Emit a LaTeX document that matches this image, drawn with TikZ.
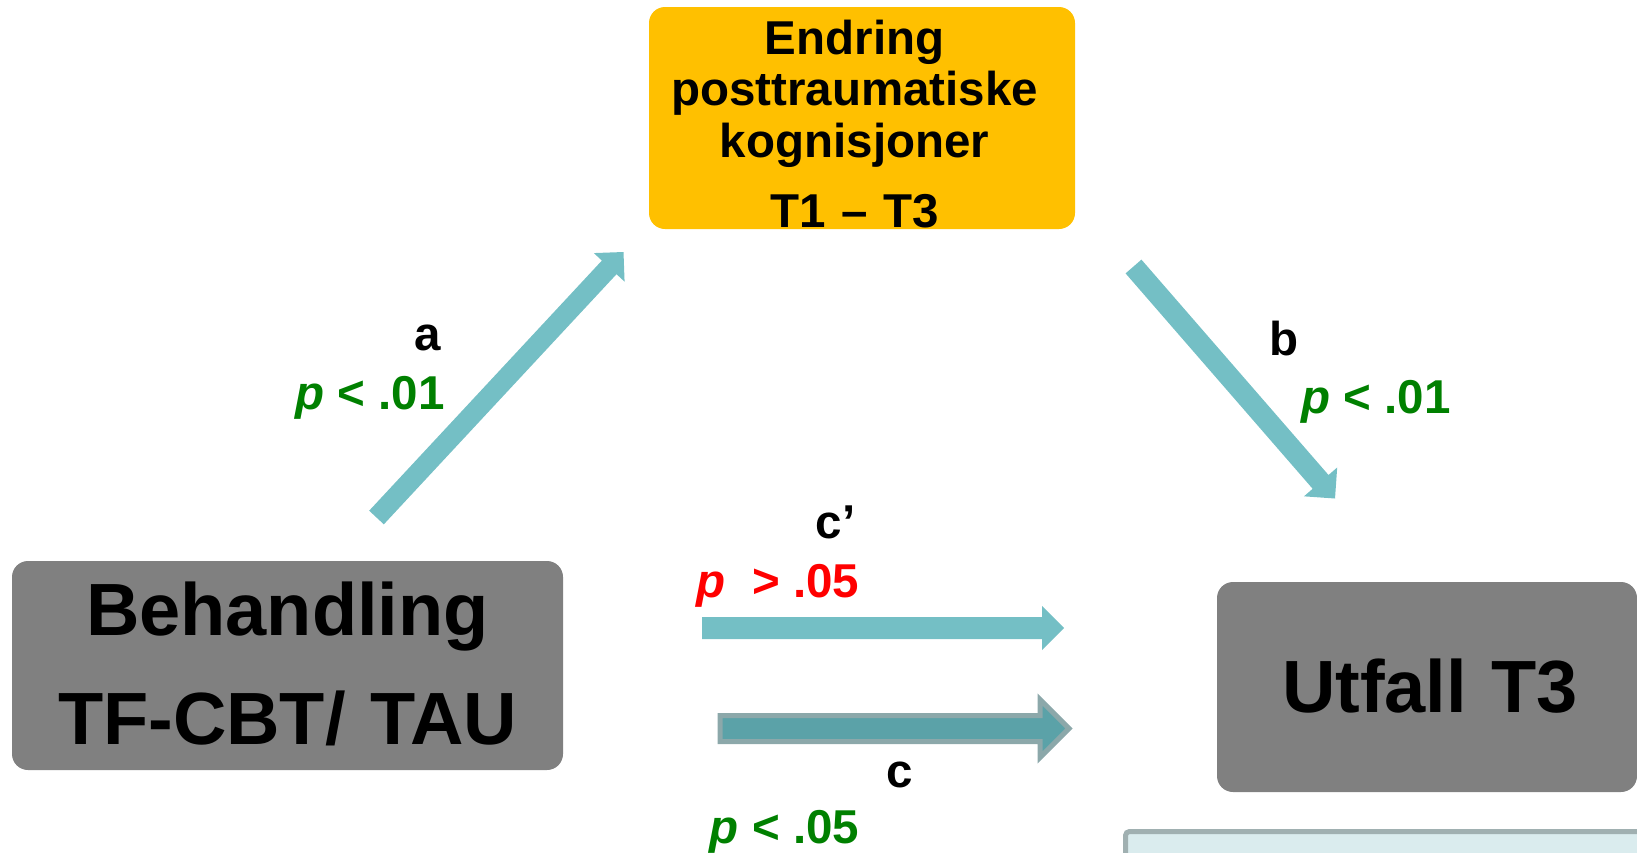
\documentclass[tikz,border=0pt]{standalone}
\usepackage{fontspec}
\setmainfont{Liberation Sans}
\usetikzlibrary{calc}

\definecolor{boxgray}{RGB}{128,128,128}
\definecolor{mediatorfill}{RGB}{255,192,0}
\definecolor{pathteal}{RGB}{116,191,197}
\definecolor{totalteal}{RGB}{91,162,168}
\definecolor{totaledge}{RGB}{140,168,170}
\definecolor{sigcol}{RGB}{0,128,0}
\definecolor{nscol}{RGB}{255,0,0}
\definecolor{notefill}{RGB}{218,236,238}
\definecolor{noteedge}{RGB}{160,176,177}

% Block arrow as a filled polygon:
% #1 style, #2 tail coordinate, #3 tip coordinate,
% #4 shaft half width, #5 head half width, #6 head length
\newcommand\blockarrow[6]{%
  \coordinate (#3-b) at ($(#3)!#6!(#2)$);
  \path[#1] ($(#2)!#4!90:(#3)$) -- ($(#3-b)!#4!90:(#3)$) -- ($(#3-b)!#5!90:(#3)$)
    -- (#3) -- ($(#3-b)!#5!-90:(#3)$) -- ($(#3-b)!#4!-90:(#3)$)
    -- ($(#2)!#4!-90:(#3)$) -- cycle;
}

\begin{document}
\begin{tikzpicture}[x=1pt, y=-1pt,
  varbox/.style={rectangle, rounded corners=16pt, inner sep=0pt, align=center},
  bigtext/.style={font=\bfseries\fontsize{74}{109}\selectfont},
  lab/.style={inner sep=0pt, anchor=base, font=\bfseries\fontsize{47.5}{50}\selectfont},
  tealpath/.style={fill=pathteal},
  totalpath/.style={fill=totalteal, draw=totaledge, line width=5pt, line join=miter}
]
\useasboundingbox (0,0) rectangle (1637,852);
\clip (0,0) rectangle (1637,852);

% variables
\node[varbox, bigtext, fill=boxgray, text width=551pt, text height=74pt, text depth=135pt]
  (treat) at (287.5,665.5) {Behandling\\TF-CBT/ TAU};
\node[varbox, fill=mediatorfill, text width=426pt, text height=47pt, text depth=175pt,
  font=\bfseries\fontsize{47.5}{51.5}\selectfont]
  (mediator) at (862,118)
  {Endring\kern15pt\\posttraumatiske\kern15pt\\kognisjoner\kern15pt\\[18.5pt]T1 – T3\kern15pt};
\node[varbox, bigtext, fill=boxgray, text width=420pt, text height=130pt, text depth=80pt]
  (outcome) at (1427,687) {\kern6pt Utfall T3};

% panel below the outcome
\draw[draw=noteedge, fill=notefill, line width=5pt, rounded corners=4pt]
  (1125.5,831.5) rectangle (1700,900);

% path endpoints
\coordinate (aS) at (376.5,517.5);
\coordinate (aE) at (623.5,252);
\coordinate (bS) at (1133.5,266.5);
\coordinate (bE) at (1335,498.5);
\coordinate (cpS) at (702,628);
\coordinate (cpE) at (1064,628);
\coordinate (cS) at (720,728.5);
\coordinate (cE) at (1069,728.5);

% paths
\blockarrow{tealpath}{aS}{aE}{10pt}{21pt}{21pt}
\blockarrow{tealpath}{bS}{bE}{10.5pt}{22pt}{22pt}
\blockarrow{tealpath}{cpS}{cpE}{11pt}{22pt}{22pt}
\blockarrow{totalpath}{cS}{cE}{13pt}{29pt}{29pt}

% path labels
\node[lab] (la) at (427.5,350) {a};
\node[lab, text=sigcol] (pa) at (370,409) {\textit{p} < .01};
\node[lab] (lb) at (1284,355) {b};
\node[lab, text=sigcol] (pb) at (1376,413) {\textit{p} < .01};
\node[lab] (lcp) at (835.5,538) {c’};
\node[lab, text=nscol] (pcp) at (778,597) {\textit{p}\ \ > .05};
\node[lab] (lc) at (900,787) {c};
\node[lab, text=sigcol] (pc) at (784.5,843) {\textit{p} < .05};
\end{tikzpicture}
\end{document}
